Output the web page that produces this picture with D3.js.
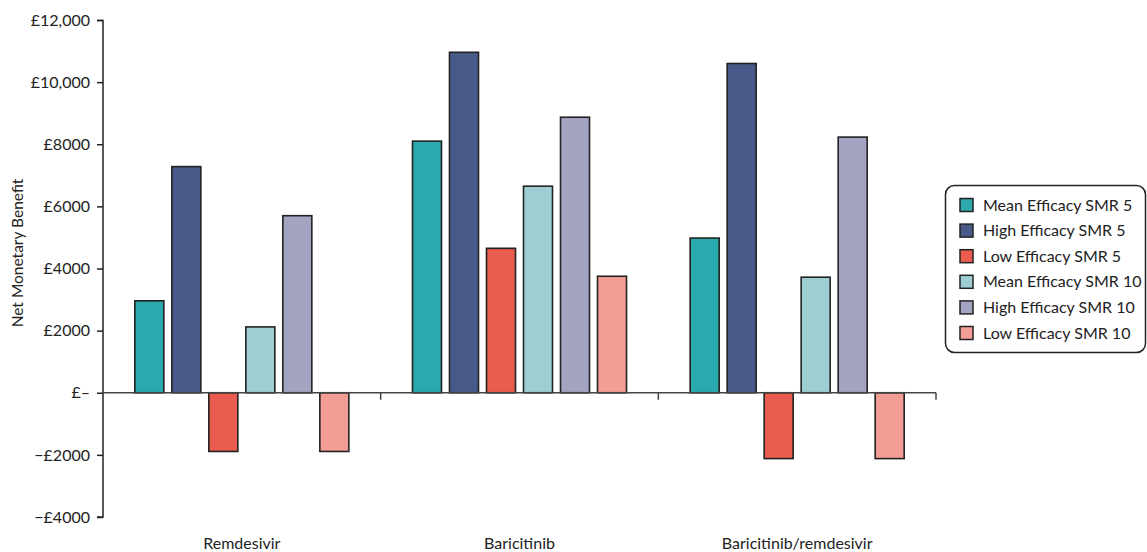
<!DOCTYPE html>
<html><head><meta charset="utf-8">
<script src="https://cdn.jsdelivr.net/npm/d3@7"></script>
<style>body{margin:0;background:#fff;} text{font-family:Lato, sans-serif; fill:#222;}</style>
</head><body><svg id="c" width="1147" height="552"></svg>
<script>
const categories = ["Remdesivir", "Baricitinib", "Baricitinib/remdesivir"];
const seriesNames = ["Mean Efficacy SMR 5","High Efficacy SMR 5","Low Efficacy SMR 5","Mean Efficacy SMR 10","High Efficacy SMR 10","Low Efficacy SMR 10"];
const meanSMR5 = [2960, 8100, 4980];
const highSMR5 = [7280, 10960, 10600];
const lowSMR5 = [-1890, 4650, -2120];
const meanSMR10 = [2120, 6650, 3720];
const highSMR10 = [5700, 8870, 8230];
const lowSMR10 = [-1890, 3750, -2120];
const seriesValues = [meanSMR5, highSMR5, lowSMR5, meanSMR10, highSMR10, lowSMR10];
const colors = ["#2aa9ae","#475a8a","#e95c4f","#9ecdd2","#a3a3c2","#f29e95"];
const yTicks = [-4000,-2000,0,2000,4000,6000,8000,10000,12000];
const yTickLabels = ["\u2212£4000","\u2212£2000","£\u2013","£2000","£4000","£6000","£8000","£10,000","£12,000"];

const svg = d3.select("#c");
const y = d3.scaleLinear().domain([-4000,12000]).range([517,20]);
const x0 = d3.scaleBand().domain(categories).range([103,936]).paddingInner(0).paddingOuter(0);
const x1 = d3.scaleBand().domain(seriesNames).range([0,x0.bandwidth()]).paddingInner(8/37).paddingOuter(0.86);
const color = d3.scaleOrdinal().domain(seriesNames).range(colors);

// bars
const g = svg.append("g");
categories.forEach((cat,ci)=>{
  seriesNames.forEach((s,si)=>{
    const v = seriesValues[si][ci];
    g.append("rect")
      .attr("x", x0(cat)+x1(s))
      .attr("width", x1.bandwidth())
      .attr("y", y(Math.max(0,v)))
      .attr("height", Math.abs(y(v)-y(0)))
      .attr("fill", color(s))
      .attr("stroke","#222").attr("stroke-width",1.6);
  });
});

// y axis
const yAxis = d3.axisLeft(y).tickValues(yTicks).tickSize(6).tickPadding(7)
  .tickFormat((d,i)=>yTickLabels[yTicks.indexOf(d)]);
const ya = svg.append("g").attr("transform","translate(103,0)").call(yAxis);
ya.select(".domain").attr("stroke","#222").attr("stroke-width",1.5).attr("d","M-6,20.5H0V517H-6");
ya.selectAll(".tick line").attr("stroke","#222").attr("stroke-width",1.5);
ya.selectAll(".tick text").attr("font-family","Lato, sans-serif").attr("font-size",16).attr("fill","#222");

// x axis at zero
const xa = svg.append("g").attr("transform",`translate(0,${y(0)})`);
xa.append("line").attr("x1",103).attr("x2",936).attr("stroke","#444").attr("stroke-width",1.5);
const bounds = categories.map(c=>x0(c)).concat([x0(categories[categories.length-1])+x0.bandwidth()]);
bounds.slice(1).forEach(bx=>{
  xa.append("line").attr("x1",bx).attr("x2",bx).attr("y1",0).attr("y2",7).attr("stroke","#444").attr("stroke-width",1.5);
});
// category labels
svg.append("g").selectAll("text").data(categories).join("text")
  .attr("x",d=>x0(d)+x0.bandwidth()/2).attr("y",549)
  .attr("text-anchor","middle").attr("font-size",16).text(d=>d);

// y label
svg.append("text").attr("transform","translate(23,253) rotate(-90)")
  .attr("text-anchor","middle").attr("font-size",15.5).text("Net Monetary Benefit");

// legend
const lg = svg.append("g");
lg.append("rect").attr("x",945.5).attr("y",185.5).attr("width",200).attr("height",167)
  .attr("rx",9).attr("fill","#fff").attr("stroke","#222").attr("stroke-width",1.5);
seriesNames.forEach((s,i)=>{
  const cy = 205 + i*25.6;
  lg.append("rect").attr("x",960).attr("y",cy-6.5).attr("width",13).attr("height",13)
    .attr("fill",color(s)).attr("stroke","#222").attr("stroke-width",1.5);
  lg.append("text").attr("x",983).attr("y",cy+5.5).attr("font-size",16).text(s);
});
</script></body></html>
